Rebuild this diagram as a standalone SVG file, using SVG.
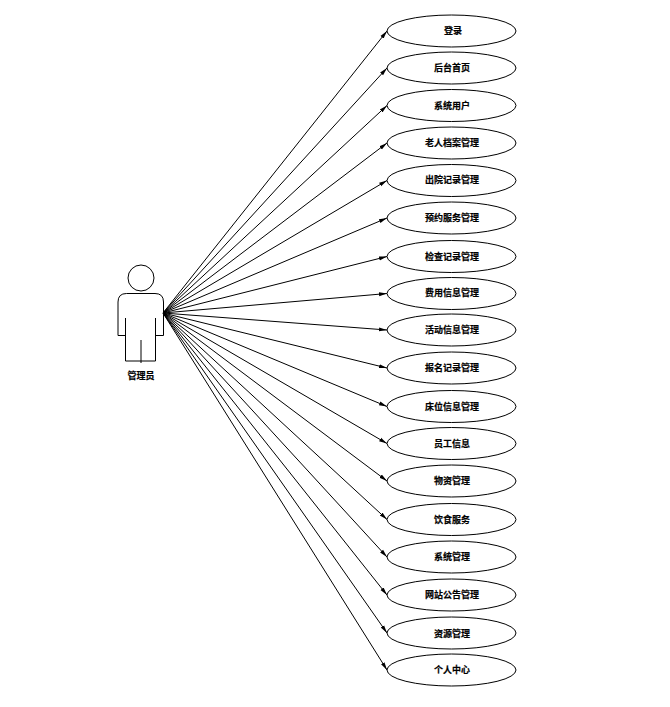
<svg xmlns="http://www.w3.org/2000/svg" width="670" height="707" viewBox="0 0 670 707">
<style>
.e{fill:#fff;stroke:#000;stroke-width:1}
.t{font-family:"Noto Sans CJK SC","Liberation Sans",sans-serif;font-size:9px;font-weight:700;text-anchor:middle;fill:#000;stroke:#000;stroke-width:.2}
.c{stroke:#000;stroke-width:1;fill:none;marker-end:url(#a)}
.p{fill:none;stroke:#000;stroke-width:1}
</style>
<defs><marker id="a" markerUnits="userSpaceOnUse" markerWidth="9" markerHeight="7" refX="8" refY="3.5" orient="auto"><path d="M0 1.500L8 3.500L0 5.500Z" fill="#000"/></marker></defs>
<rect width="670" height="707" fill="#fff"/>
<g id="connectors">
<path class="c" d="M163 313L387 31"/>
<path class="c" d="M163 313L387 68"/>
<path class="c" d="M163 313L387 105.500"/>
<path class="c" d="M163 313L387 143"/>
<path class="c" d="M163 313L387 180.500"/>
<path class="c" d="M163 313L387 218"/>
<path class="c" d="M163 313L387 256.500"/>
<path class="c" d="M163 313L387 293.500"/>
<path class="c" d="M163 313L387 330"/>
<path class="c" d="M163 313L387 368"/>
<path class="c" d="M163 313L387 406.500"/>
<path class="c" d="M163 313L387 443.500"/>
<path class="c" d="M163 313L387 481"/>
<path class="c" d="M163 313L387 519.500"/>
<path class="c" d="M163 313L387 557"/>
<path class="c" d="M163 313L387 595"/>
<path class="c" d="M163 313L387 633"/>
<path class="c" d="M163 313L387 670"/>
</g>
<g id="actor">
<circle class="p" cx="141" cy="278" r="13"/>
<path class="p" d="M125.500 335.500H118V302Q118 293.500 126.500 293.500H155Q163.500 293.500 163.500 302V335.500H156M125.500 318V361H155.500V318M141 340V363"/>
<text class="t" x="141" y="379">管理员</text>
</g>
<g id="n1"><ellipse class="e" cx="451.500" cy="31" rx="64.500" ry="16"/><text class="t" x="453" y="34">登录</text></g>
<g id="n2"><ellipse class="e" cx="451.500" cy="68" rx="64.500" ry="16"/><text class="t" x="452" y="71">后台首页</text></g>
<g id="n3"><ellipse class="e" cx="451.500" cy="105.500" rx="64.500" ry="16"/><text class="t" x="452" y="109">系统用户</text></g>
<g id="n4"><ellipse class="e" cx="451.500" cy="143" rx="64.500" ry="16"/><text class="t" x="452" y="146">老人档案管理</text></g>
<g id="n5"><ellipse class="e" cx="451.500" cy="180.500" rx="64.500" ry="16"/><text class="t" x="452" y="183">出院记录管理</text></g>
<g id="n6"><ellipse class="e" cx="451.500" cy="218" rx="64.500" ry="16"/><text class="t" x="452" y="221">预约服务管理</text></g>
<g id="n7"><ellipse class="e" cx="451.500" cy="256.500" rx="64.500" ry="16"/><text class="t" x="452" y="260">检查记录管理</text></g>
<g id="n8"><ellipse class="e" cx="451.500" cy="293.500" rx="64.500" ry="16"/><text class="t" x="452" y="296">费用信息管理</text></g>
<g id="n9"><ellipse class="e" cx="451.500" cy="330" rx="64.500" ry="16"/><text class="t" x="452" y="333">活动信息管理</text></g>
<g id="n10"><ellipse class="e" cx="451.500" cy="368" rx="64.500" ry="16"/><text class="t" x="452" y="371">报名记录管理</text></g>
<g id="n11"><ellipse class="e" cx="451.500" cy="406.500" rx="64.500" ry="16"/><text class="t" x="452" y="410">床位信息管理</text></g>
<g id="n12"><ellipse class="e" cx="451.500" cy="443.500" rx="64.500" ry="16"/><text class="t" x="452" y="447">员工信息</text></g>
<g id="n13"><ellipse class="e" cx="451.500" cy="481" rx="64.500" ry="16"/><text class="t" x="452" y="484">物资管理</text></g>
<g id="n14"><ellipse class="e" cx="451.500" cy="519.500" rx="64.500" ry="16"/><text class="t" x="452" y="523">饮食服务</text></g>
<g id="n15"><ellipse class="e" cx="451.500" cy="557" rx="64.500" ry="16"/><text class="t" x="452" y="560">系统管理</text></g>
<g id="n16"><ellipse class="e" cx="451.500" cy="595" rx="64.500" ry="16"/><text class="t" x="452" y="598">网站公告管理</text></g>
<g id="n17"><ellipse class="e" cx="451.500" cy="633" rx="64.500" ry="16"/><text class="t" x="452" y="637">资源管理</text></g>
<g id="n18"><ellipse class="e" cx="451.500" cy="670" rx="64.500" ry="16"/><text class="t" x="452" y="673">个人中心</text></g>
</svg>
